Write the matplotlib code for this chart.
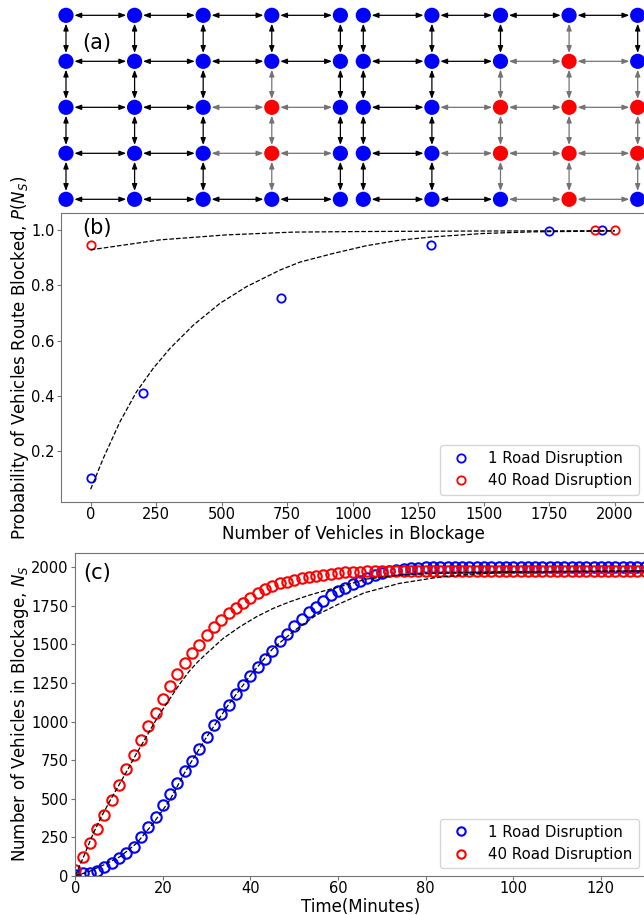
import numpy as np
import matplotlib.pyplot as plt
from matplotlib.patches import FancyArrowPatch

# (a) two 5x5 road grids, blocked junctions given as (column, row)
n_cols = 5
n_rows = 5
blocked_one = [(3, 2), (3, 3)]
blocked_forty = [(3, 1), (2, 2), (3, 2), (4, 2), (2, 3), (3, 3), (4, 3), (3, 4)]

# (b) probability of route blocked vs vehicles in blockage
nb_one = [0, 200, 725, 1300, 1750, 1950]
pb_one = [0.102, 0.412, 0.753, 0.945, 0.996, 1.0]
nb_forty = [0, 1925, 2000]
pb_forty = [0.946, 1.0, 1.0]
fitb_one_x = [0, 48, 112, 175, 239, 303, 392, 494, 595, 723, 800, 926, 1053,
              1180, 1308, 1498, 1689, 2000]
fitb_one_y = [0.063, 0.174, 0.307, 0.415, 0.500, 0.572, 0.656, 0.735, 0.795,
              0.855, 0.884, 0.915, 0.943, 0.963, 0.975, 0.987, 0.993, 0.996]
fitb_forty_x = [0, 265, 519, 773, 1028, 1500, 2000]
fitb_forty_y = [0.928, 0.964, 0.982, 0.992, 0.994, 0.996, 0.997]

# (c) vehicles in blockage vs time, one sample every 100 s
t_min = np.arange(79) * 100 / 60
ns_one = [5, 15, 20, 30, 54, 84, 113, 145, 184, 249,
          318, 383, 458, 530, 603, 681, 746, 822, 897, 977,
          1046, 1107, 1178, 1237, 1295, 1351, 1403, 1459, 1522, 1567,
          1619, 1663, 1712, 1745, 1782, 1818, 1845, 1868, 1890, 1911,
          1932, 1950, 1961, 1974, 1982, 1989, 1993, 1997, 2000, 2002,
          2003, 2004, 2004, 2004, 2004, 2004, 2004, 2004, 2004, 2004,
          2004, 2004, 2004, 2004, 2004, 2004, 2004, 2004, 2004, 2004,
          2004, 2004, 2004, 2004, 2004, 2004, 2004, 2004, 2004]
ns_forty = [37, 119, 210, 300, 391, 491, 586, 692, 783, 880,
            971, 1057, 1144, 1230, 1306, 1377, 1442, 1496, 1561, 1611,
            1658, 1702, 1736, 1771, 1803, 1831, 1857, 1879, 1896, 1907,
            1918, 1928, 1936, 1945, 1951, 1957, 1963, 1967, 1970, 1972,
            1974, 1975, 1976, 1977, 1977, 1978, 1978, 1978, 1978, 1978,
            1978, 1978, 1978, 1978, 1978, 1978, 1978, 1978, 1978, 1978,
            1978, 1978, 1978, 1978, 1978, 1978, 1978, 1978, 1978, 1978,
            1978, 1978, 1978, 1978, 1978, 1978, 1978, 1978, 1978]
fitc_one_t = [0, 3, 6.4, 10.2, 14, 17.8, 21.6, 25, 30, 35, 40, 45, 50, 55,
              60, 66, 74, 82, 90, 97, 110, 130]
fitc_one_n = [0, 25, 69, 123, 210, 340, 491, 670, 900, 1110, 1300, 1470,
              1590, 1690, 1760, 1835, 1896, 1932, 1955, 1966, 1973, 1977]
fitc_forty_t = [0, 2, 4, 6, 8, 10, 12, 14, 16, 18, 20, 22, 24, 26, 28, 30,
                33.8, 37.6, 41.4, 45.2, 49, 52.8, 56.6, 60.4, 66.5, 74.1,
                81.7, 97, 130]
fitc_forty_n = [0, 130, 268, 385, 490, 590, 690, 794, 890, 990, 1080, 1165,
                1250, 1326, 1388, 1442, 1540, 1615, 1680, 1734, 1777, 1814,
                1846, 1874, 1924, 1950, 1961, 1971, 1976]

labels = ['1 Road Disruption', '40 Road Disruption']

fig = plt.figure(figsize=(6.44, 9.15), dpi=100)

# ---- (a) ----
axa = fig.add_axes([0, 1 - 212 / 915, 1, 212 / 915])
axa.set_xlim(-0.962, 8.426)
axa.set_ylim(4.276, -0.333)
axa.axis('off')

grid_shift = 4.334
for shift, blocked in [(0, blocked_one), (grid_shift, blocked_forty)]:
    for c in range(n_cols):
        for r in range(n_rows):
            nbrs = []
            if c + 1 < n_cols:
                nbrs.append((c + 1, r))
            if r + 1 < n_rows:
                nbrs.append((c, r + 1))
            for (c2, r2) in nbrs:
                col = '0.45' if ((c, r) in blocked or (c2, r2) in blocked) else 'black'
                arr = FancyArrowPatch((c + shift, r), (c2 + shift, r2),
                                      arrowstyle='<|-|>,head_length=0.4,head_width=0.15',
                                      mutation_scale=10, shrinkA=6, shrinkB=6,
                                      color=col, lw=0.9, zorder=1)
                axa.add_patch(arr)
    xs, ys, cs = [], [], []
    for c in range(n_cols):
        for r in range(n_rows):
            xs.append(c + shift)
            ys.append(r)
            cs.append('red' if (c, r) in blocked else 'blue')
    axa.scatter(xs, ys, s=120, c=cs, zorder=2, linewidths=0)

# ---- (b) ----
axb = fig.add_axes([61 / 644, 1 - 502 / 915, 585 / 644, 289 / 915])
axb.plot(nb_one, pb_one, 'o', mfc='none', mec='blue', ms=6, mew=1.3, label=labels[0])
axb.plot(nb_forty, pb_forty, 'o', mfc='none', mec='red', ms=6, mew=1.3, label=labels[1])
axb.plot(fitb_one_x, fitb_one_y, '--', color='black', lw=0.9)
axb.plot(fitb_forty_x, fitb_forty_y, '--', color='black', lw=0.9)
axb.set_xlim(-113, 2119)
axb.set_ylim(0.017, 1.061)
axb.set_xticks(np.arange(0, 2001, 250))
axb.set_yticks([0.2, 0.4, 0.6, 0.8, 1.0])
axb.set_xlabel('Number of Vehicles in Blockage', fontsize=12, labelpad=2)
axb.set_ylabel('Probability of Vehicles Route Blocked, $P(N_S)$', fontsize=12, labelpad=0)
axb.legend(loc='lower right', fontsize=10.8)

# ---- (c) ----
axc = fig.add_axes([75.3 / 644, 1 - 875.7 / 915, 570.7 / 644, 323 / 915])
axc.plot(t_min, ns_one, 'o', mfc='none', mec='blue', ms=7.5, mew=1.5, label=labels[0])
axc.plot(t_min, ns_forty, 'o', mfc='none', mec='red', ms=7.5, mew=1.5, label=labels[1])
axc.plot(fitc_one_t, fitc_one_n, '--', color='black', lw=0.9)
axc.plot(fitc_forty_t, fitc_forty_n, '--', color='black', lw=0.9)
axc.set_xlim(0, 130.3)
axc.set_ylim(0, 2095)
axc.set_xticks(np.arange(0, 121, 20))
axc.set_yticks(np.arange(0, 2001, 250))
axc.set_xlabel('Time(Minutes)', fontsize=12, labelpad=2)
axc.set_ylabel('Number of Vehicles in Blockage, $N_S$', fontsize=12, labelpad=0)
axc.legend(loc='lower right', fontsize=10.8, markerscale=0.8)

for ax in [axb, axc]:
    ax.tick_params(labelsize=10.5, color='0.45', length=3)
    ax.tick_params(axis='x', pad=0.5)
    ax.tick_params(axis='y', pad=1.8)
    for sp in ax.spines.values():
        sp.set_color('0.45')

fig.text(97 / 644, 1 - 43 / 915, '(a)', fontsize=15, ha='center', va='center')
fig.text(97 / 644, 1 - 228 / 915, '(b)', fontsize=15, ha='center', va='center')
fig.text(97 / 644, 1 - 573 / 915, '(c)', fontsize=15, ha='center', va='center')

fig.savefig('out.png', dpi=100)
